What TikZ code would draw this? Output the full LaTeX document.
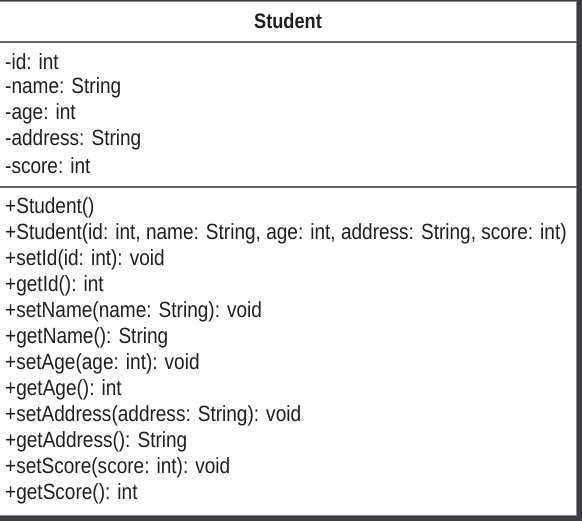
\documentclass[tikz,border=0pt]{standalone}
\usepackage{fontspec}
\setmainfont{Liberation Sans}[FakeStretch=0.865]
\begin{document}
\begin{tikzpicture}[x=1pt,y=-1pt,
  member/.style={anchor=west,inner sep=0pt,font=\fontsize{22}{24}\selectfont,text=black!88},
  divider/.style={draw=black!60,line width=2pt}]
\useasboundingbox (0,0) rectangle (582,521);
\fill[black!80!blue!20!gray!60!black] (0,0) rectangle (582,521);
\fill[white] (0,1) rectangle (577,516);
\draw[black!45,line width=0.8pt] (0,1.4) -- (576.6,1.4) -- (576.6,515.6) -- (0,515.6);
\node[inner sep=0pt,font=\bfseries\fontsize{21}{24}\selectfont,text=black!88] (title) at (288,21) {Student};
\draw[divider] (0,42) -- (577,42);
\draw[divider] (0,187) -- (577,187);
\node[member] (a1) at (5,62) {-id: int};
\node[member] (a2) at (5,88) {-name: String};
\node[member] (a3) at (5,114) {-age: int};
\node[member] (a4) at (5,140) {-address: String};
\node[member] (a5) at (5,166) {-score: int};
\node[member] (m1) at (5,208) {+Student()};
\node[member] (m2) at (5,234) {+Student(id: int, name: String, age: int, address: String, score: int)};
\node[member] (m3) at (5,260) {+setId(id: int): void};
\node[member] (m4) at (5,286) {+getId(): int};
\node[member] (m5) at (5,312) {+setName(name: String): void};
\node[member] (m6) at (5,338) {+getName(): String};
\node[member] (m7) at (5,364) {+setAge(age: int): void};
\node[member] (m8) at (5,390) {+getAge(): int};
\node[member] (m9) at (5,416) {+setAddress(address: String): void};
\node[member] (m10) at (5,442) {+getAddress(): String};
\node[member] (m11) at (5,468) {+setScore(score: int): void};
\node[member] (m12) at (5,494) {+getScore(): int};
\end{tikzpicture}
\end{document}
